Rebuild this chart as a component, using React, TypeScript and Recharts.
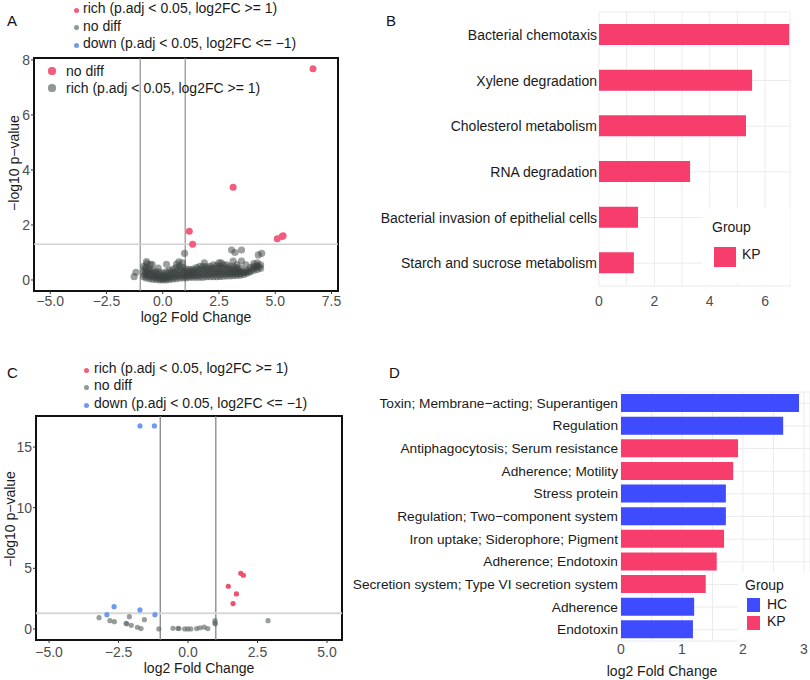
import React from "react";
import {
  ScatterChart,
  Scatter,
  BarChart,
  Bar,
  XAxis,
  YAxis,
  CartesianGrid,
  ReferenceLine,
  ReferenceArea,
  Cell,
} from "recharts";

const FONT = '"Liberation Sans", Arial, Helvetica, sans-serif';
const MINUS = "\u2212";

const PINK_PT = "#F25C7D";
const GREY_PT = "#3A4240";
const GREY_KEY = "#8E9996";
const BLUE_PT = "#6E9AF0";
const KP_FILL = "#F73D6C";
const HC_FILL = "#3F4BFF";

// ---- panel A: volcano (pathways) ----
const richA: [number, number][] = [
  [6.68, 7.68], [3.13, 3.37], [1.18, 1.77], [1.33, 1.3], [5.09, 1.5], [5.3, 1.58], [5.35, 1.61],
];
const nodiffA: [number, number][] = [
  [-1.27, 0.12], [-1.19, 0.28], [-0.72, 0.67], [-0.47, 0.57], [-0.2, 0.43], [0.17, 0.57], [0.97, 0.97],
  [-0.85, 0.12], [-0.85, 0.3], [-0.85, 0.5],
  [-0.75, 0.08], [-0.75, 0.25], [-0.75, 0.45], [-0.7, 0.6],
  [-0.6, 0.05], [-0.6, 0.22], [-0.6, 0.4], [-0.55, 0.55],
  [-0.45, 0.03], [-0.45, 0.18], [-0.45, 0.35],
  [-0.3, 0.02], [-0.3, 0.15], [-0.3, 0.3],
  [-0.15, 0.0], [-0.15, 0.12], [-0.15, 0.28],
  [0.0, 0.0], [0.0, 0.1], [0.0, 0.25],
  [0.15, 0.0], [0.15, 0.12], [0.15, 0.3],
  [0.3, 0.02], [0.3, 0.15], [0.3, 0.35],
  [0.45, 0.04], [0.45, 0.2], [0.45, 0.4],
  [0.6, 0.05], [0.6, 0.22], [0.6, 0.45], [0.62, 0.58],
  [0.75, 0.07], [0.75, 0.25], [0.75, 0.5], [0.72, 0.66],
  [0.9, 0.08], [0.9, 0.25], [0.9, 0.45], [0.88, 0.62],
  [1.05, 0.08], [1.05, 0.22], [1.05, 0.4],
  [1.2, 0.1], [1.2, 0.22], [1.2, 0.38],
  [1.35, 0.1], [1.35, 0.25], [1.35, 0.4],
  [1.5, 0.1], [1.5, 0.25], [1.5, 0.45],
  [1.65, 0.1], [1.65, 0.28], [1.65, 0.5],
  [1.8, 0.1], [1.8, 0.3], [1.8, 0.5], [1.85, 0.62],
  [1.95, 0.12], [1.95, 0.3], [1.95, 0.48],
  [2.1, 0.12], [2.1, 0.3], [2.1, 0.5],
  [2.25, 0.12], [2.25, 0.32], [2.25, 0.55],
  [2.4, 0.12], [2.4, 0.3], [2.4, 0.52], [2.5, 0.62],
  [2.55, 0.13], [2.55, 0.3], [2.55, 0.5],
  [2.7, 0.14], [2.7, 0.32], [2.7, 0.55],
  [2.85, 0.15], [2.85, 0.32], [2.85, 0.55],
  [3.0, 0.15], [3.0, 0.3], [3.0, 0.5],
  [3.15, 0.16], [3.15, 0.3], [3.15, 0.48],
  [3.3, 0.17], [3.3, 0.3], [3.3, 0.45],
  [3.45, 0.18], [3.45, 0.3], [3.45, 0.42],
  [3.6, 0.2], [3.6, 0.3],
  [3.75, 0.25], [3.75, 0.35],
  [3.9, 0.3], [3.9, 0.45],
  [4.05, 0.35], [4.05, 0.5], [4.05, 0.6],
  [4.2, 0.38], [4.2, 0.52], [4.2, 0.62],
  [4.35, 0.42], [4.35, 0.55],
  [3.06, 1.09], [3.21, 1.0], [3.5, 1.09], [3.13, 0.69], [3.5, 0.69],
  [4.25, 0.91], [4.4, 0.97], [2.6, 0.62], [3.3, 0.55], [3.7, 0.55],
  [-0.8, 0.2], [-0.8, 0.4], [-0.68, 0.15], [-0.68, 0.32], [-0.52, 0.12], [-0.52, 0.3],
  [-0.38, 0.1], [-0.38, 0.25], [-0.22, 0.08], [-0.22, 0.2], [-0.08, 0.05], [-0.08, 0.18],
  [0.08, 0.05], [0.08, 0.18], [0.22, 0.07], [0.22, 0.22], [0.38, 0.1], [0.38, 0.28],
  [0.52, 0.12], [0.52, 0.3], [0.68, 0.15], [0.68, 0.35], [0.82, 0.15], [0.82, 0.38],
  [0.98, 0.15], [0.98, 0.32], [1.12, 0.15], [1.12, 0.3], [1.28, 0.16], [1.28, 0.32],
  [1.42, 0.17], [1.42, 0.33], [1.58, 0.18], [1.58, 0.38], [1.72, 0.2], [1.72, 0.4],
  [1.88, 0.2], [1.88, 0.4], [2.02, 0.2], [2.02, 0.4], [2.18, 0.22], [2.18, 0.42],
  [2.32, 0.22], [2.32, 0.42], [2.48, 0.22], [2.48, 0.4], [2.62, 0.22], [2.62, 0.42],
  [2.78, 0.23], [2.78, 0.44], [2.92, 0.23], [2.92, 0.42], [3.08, 0.23], [3.08, 0.4],
  [3.22, 0.24], [3.22, 0.38], [3.38, 0.24], [3.38, 0.36], [3.52, 0.25], [3.68, 0.28],
  [3.82, 0.3], [3.98, 0.4], [4.12, 0.45], [4.28, 0.48],
];
const xTicksA = [-5, -2.5, 0, 2.5, 5, 7.5];
const yTicksA = [0, 2, 4, 6, 8];

// ---- panel C: volcano (virulence factors) ----
const richC: [number, number][] = [
  [1.9, 4.59], [1.99, 4.43], [1.45, 3.52], [1.74, 2.89], [1.62, 2.09],
];
const downC: [number, number][] = [
  [-1.73, 16.74], [-1.21, 16.74], [-2.66, 1.84], [-2.92, 1.18], [-1.73, 1.57], [-1.19, 1.18],
];
const nodiffC: [number, number][] = [
  [-3.2, 0.93], [-2.81, 0.68], [-2.65, 0.6], [-2.23, 0.47], [-2.2, 0.42], [-2.11, 1.01],
  [-2.04, 0.3], [-1.82, 0.14], [-1.69, 0.03], [-1.57, 0.77], [-1.05, 0.0], [-0.54, 0.06],
  [-0.36, 0.06], [-0.33, 0.04], [-0.12, 0.0], [-0.01, 0.0], [0.1, 0.0], [0.31, 0.03],
  [0.43, 0.1], [0.58, 0.15], [0.71, 0.03], [0.97, 0.68], [0.97, 0.5], [0.98, 0.42], [2.88, 0.68],
];
const xTicksC = [-5, -2.5, 0, 2.5, 5];
const yTicksC = [0, 5, 10, 15];

// ---- panel B: pathways ----
const pathways = [
  "Bacterial chemotaxis",
  "Xylene degradation",
  "Cholesterol metabolism",
  "RNA degradation",
  "Bacterial invasion of epithelial cells",
  "Starch and sucrose metabolism",
];
const pathwayFC = [6.87, 5.53, 5.31, 3.29, 1.41, 1.26];
const xTicksB = [0, 1, 2, 3, 4, 5, 6];

// ---- panel D: virulence factors ----
const factors = [
  `Toxin; Membrane${MINUS}acting; Superantigen`,
  "Regulation",
  "Antiphagocytosis; Serum resistance",
  "Adherence; Motility",
  "Stress protein",
  `Regulation; Two${MINUS}component system`,
  "Iron uptake; Siderophore; Pigment",
  "Adherence; Endotoxin",
  "Secretion system; Type VI secretion system",
  "Adherence",
  "Endotoxin",
];
const factorFC = [2.92, 2.66, 1.92, 1.84, 1.72, 1.72, 1.69, 1.57, 1.39, 1.2, 1.18];
const factorGroup = ["HC", "HC", "KP", "KP", "HC", "HC", "KP", "KP", "KP", "HC", "HC"];
const xTicksD = [0, 0.5, 1, 1.5, 2, 2.5, 3];

const fmt1 = (v: number) => v.toFixed(1).replace("-", MINUS);
const fmt0 = (v: number) => String(v);
const intOnly = (v: number) => (Number.isInteger(v) ? String(v) : "");
const evenOnly = (v: number) => (v % 2 === 0 ? String(v) : "");
const toXY = (pts: [number, number][]) => pts.map(([x, y]) => ({ x, y }));

const T = ({ x, y, size = 14, color = "#1a1a1a", rotate = false, center = false, children }: any) => (
  <div
    style={{
      position: "absolute",
      left: x,
      top: y,
      fontSize: size,
      lineHeight: 1,
      color,
      whiteSpace: "nowrap",
      transform: rotate
        ? "translate(-50%, -50%) rotate(-90deg)"
        : center
        ? "translate(-50%, -50%)"
        : "translate(0, -50%)",
    }}
  >
    {children}
  </div>
);

const Dot = ({ x, y, r, color }: any) => (
  <div
    style={{
      position: "absolute",
      left: x - r,
      top: y - r,
      width: 2 * r,
      height: 2 * r,
      borderRadius: "50%",
      background: color,
    }}
  />
);

const Box = ({ x, y, w, h, color }: any) => (
  <div style={{ position: "absolute", left: x, top: y, width: w, height: h, background: color }} />
);

function Volcano({ width, height, margin, yWidth, xDomain, yDomain, xTicks, yTicks, xTickMargin, layers, vColor, hColor, hWidth }: any) {
  return (
    <ScatterChart width={width} height={height} margin={margin}>
      <XAxis
        type="number"
        dataKey="x"
        domain={xDomain}
        allowDataOverflow
        ticks={xTicks}
        interval={0}
        tickFormatter={fmt1}
        axisLine={false}
        tickLine={{ stroke: "#333" }}
        tickSize={3}
        tickMargin={xTickMargin}
        height={30}
        tick={{ fontSize: 14, fill: "#4d4d4d" }}
      />
      <YAxis
        type="number"
        dataKey="y"
        domain={yDomain}
        allowDataOverflow
        ticks={yTicks}
        interval={0}
        tickFormatter={fmt0}
        axisLine={false}
        tickLine={{ stroke: "#333" }}
        tickSize={3}
        tickMargin={1}
        width={yWidth}
        tick={{ fontSize: 14, fill: "#4d4d4d" }}
      />
      <ReferenceLine x={-1} stroke={vColor} strokeWidth={1.2} />
      <ReferenceLine x={1} stroke={vColor} strokeWidth={1.2} />
      <ReferenceLine y={1.3} stroke={hColor} strokeWidth={hWidth} />
      {layers.map((l: any, i: number) => (
        <Scatter
          key={i}
          data={l.data}
          isAnimationActive={false}
          shape={(p: any) => <circle cx={p.cx} cy={p.cy} r={l.r} fill={l.fill} fillOpacity={l.opacity} />}
        />
      ))}
      <ReferenceArea
        x1={xDomain[0]}
        x2={xDomain[1]}
        y1={yDomain[0]}
        y2={yDomain[1]}
        fill="none"
        fillOpacity={0}
        stroke="#111"
        strokeWidth={2}
        ifOverflow="visible"
      />
    </ScatterChart>
  );
}

const catTick = (p: any) => (
  <text x={p.x} y={p.y} textAnchor="end" dominantBaseline="central" fontSize={p.size} fill="#1a1a1a">
    {p.payload.value}
  </text>
);

export default function App() {
  const dataB = pathways.map((name, i) => ({ name, fc: pathwayFC[i] }));
  const dataD = factors.map((name, i) => ({ name, fc: factorFC[i], group: factorGroup[i] }));

  return (
    <div style={{ position: "absolute", left: 0, top: 0, width: 810, height: 680, background: "#fff", fontFamily: FONT, overflow: "hidden" }}>
      {/* A */}
      <div style={{ position: "absolute", left: 0, top: 0 }}>
        <Volcano
          width={400}
          height={330}
          margin={{ top: 58, right: 62, bottom: 9, left: 0 }}
          yWidth={34}
          xDomain={[-5.72, 7.79]}
          yDomain={[-0.4, 8.07]}
          xTicks={xTicksA}
          yTicks={yTicksA}
          xTickMargin={2}
          vColor="#8f8f8f"
          hColor="#cfd3d2"
          hWidth={1.5}
          layers={[
            { data: toXY(nodiffA), fill: GREY_PT, opacity: 0.5, r: 3.6 },
            { data: toXY(richA), fill: PINK_PT, opacity: 1, r: 3.5 },
          ]}
        />
      </div>
      <T x={7} y={20} size={15} color="#111">A</T>
      <Dot x={76} y={10} r={2.5} color={PINK_PT} />
      <Dot x={76} y={27} r={2.5} color={GREY_KEY} />
      <Dot x={76} y={45} r={2.5} color={BLUE_PT} />
      <T x={83} y={8}>rich (p.adj &lt; 0.05, log2FC &gt;= 1)</T>
      <T x={83} y={25.5}>no diff</T>
      <T x={83} y={43}>down (p.adj &lt; 0.05, log2FC &lt;= {MINUS}1)</T>
      <Dot x={52} y={71} r={3.6} color={PINK_PT} />
      <Dot x={52} y={88} r={3.6} color={GREY_KEY} />
      <T x={66} y={70.5}>no diff</T>
      <T x={66} y={87.5}>rich (p.adj &lt; 0.05, log2FC &gt;= 1)</T>
      <T x={14} y={163} rotate>{MINUS}log10 p{MINUS}value</T>
      <T x={196} y={317} center>log2 Fold Change</T>

      {/* B */}
      <div style={{ position: "absolute", left: 380, top: 0 }}>
        <BarChart width={430} height={340} data={dataB} layout="vertical" margin={{ top: 12, right: 20, bottom: 24, left: 0 }}>
          <CartesianGrid stroke="#EBEBEB" />
          <XAxis
            type="number"
            domain={[0, 6.9]}
            allowDataOverflow
            ticks={xTicksB}
            interval={0}
            tickFormatter={evenOnly}
            axisLine={false}
            tickLine={false}
            tickSize={6}
            tickMargin={4}
            height={30}
            tick={{ fontSize: 14, fill: "#4d4d4d" }}
          />
          <YAxis
            type="category"
            dataKey="name"
            width={219}
            interval={0}
            axisLine={false}
            tickLine={false}
            tickSize={0}
            tickMargin={2}
            tick={(p: any) => catTick({ ...p, size: 14 })}
          />
          <Bar dataKey="fc" fill={KP_FILL} barSize={21} isAnimationActive={false} />
        </BarChart>
      </div>
      <T x={386} y={20} size={15} color="#111">B</T>
      <Box x={702} y={208} w={88} h={76} color="#fff" />
      <T x={712} y={227}>Group</T>
      <Box x={714} y={247} w={22} h={20} color={KP_FILL} />
      <T x={742} y={254}>KP</T>

      {/* C */}
      <div style={{ position: "absolute", left: 0, top: 330 }}>
        <Volcano
          width={400}
          height={350}
          margin={{ top: 86, right: 58, bottom: 10, left: 0 }}
          yWidth={36}
          xDomain={[-5.47, 5.54]}
          yDomain={[-0.91, 17.56]}
          xTicks={xTicksC}
          yTicks={yTicksC}
          xTickMargin={4}
          vColor="#7a7a7a"
          hColor="#d4d8d7"
          hWidth={2}
          layers={[
            { data: toXY(nodiffC), fill: "#5f6a67", opacity: 0.65, r: 2.6 },
            { data: toXY(downC), fill: BLUE_PT, opacity: 1, r: 2.6 },
            { data: toXY(richC), fill: "#F0506F", opacity: 1, r: 2.6 },
          ]}
        />
      </div>
      <T x={7} y={372} size={15} color="#111">C</T>
      <Dot x={86} y={370} r={2.5} color={PINK_PT} />
      <Dot x={86} y={387} r={2.5} color={GREY_KEY} />
      <Dot x={86} y={405} r={2.5} color={BLUE_PT} />
      <T x={94} y={367.5}>rich (p.adj &lt; 0.05, log2FC &gt;= 1)</T>
      <T x={94} y={384.5}>no diff</T>
      <T x={94} y={402.5}>down (p.adj &lt; 0.05, log2FC &lt;= {MINUS}1)</T>
      <T x={10} y={519} rotate>{MINUS}log10 p{MINUS}value</T>
      <T x={199} y={668} center>log2 Fold Change</T>

      {/* D */}
      <div style={{ position: "absolute", left: 340, top: 340 }}>
        <BarChart width={470} height={340} data={dataD} layout="vertical" margin={{ top: 52, right: 0, bottom: 14, left: 0 }}>
          <CartesianGrid stroke="#EBEBEB" />
          <XAxis
            type="number"
            domain={[0, 3.1]}
            allowDataOverflow
            ticks={xTicksD}
            interval={0}
            tickFormatter={intOnly}
            axisLine={false}
            tickLine={false}
            tickSize={0}
            tickMargin={3}
            height={25}
            tick={{ fontSize: 14, fill: "#4d4d4d" }}
          />
          <YAxis
            type="category"
            dataKey="name"
            width={281}
            interval={0}
            axisLine={false}
            tickLine={false}
            tickSize={0}
            tickMargin={3}
            tick={(p: any) => catTick({ ...p, size: 13.7 })}
          />
          <Bar dataKey="fc" barSize={18} isAnimationActive={false}>
            {dataD.map((d, i) => (
              <Cell key={i} fill={d.group === "HC" ? HC_FILL : KP_FILL} />
            ))}
          </Bar>
        </BarChart>
      </div>
      <T x={389} y={372} size={15} color="#111">D</T>
      <Box x={738} y={572} w={72} h={70} color="#fff" />
      <T x={745} y={585}>Group</T>
      <Box x={747} y={598} w={13} h={14} color={HC_FILL} />
      <Box x={747} y={616} w={13} h={14} color={KP_FILL} />
      <T x={767} y={604}>HC</T>
      <T x={767} y={621}>KP</T>
      <T x={662} y={671} center>log2 Fold Change</T>
    </div>
  );
}
